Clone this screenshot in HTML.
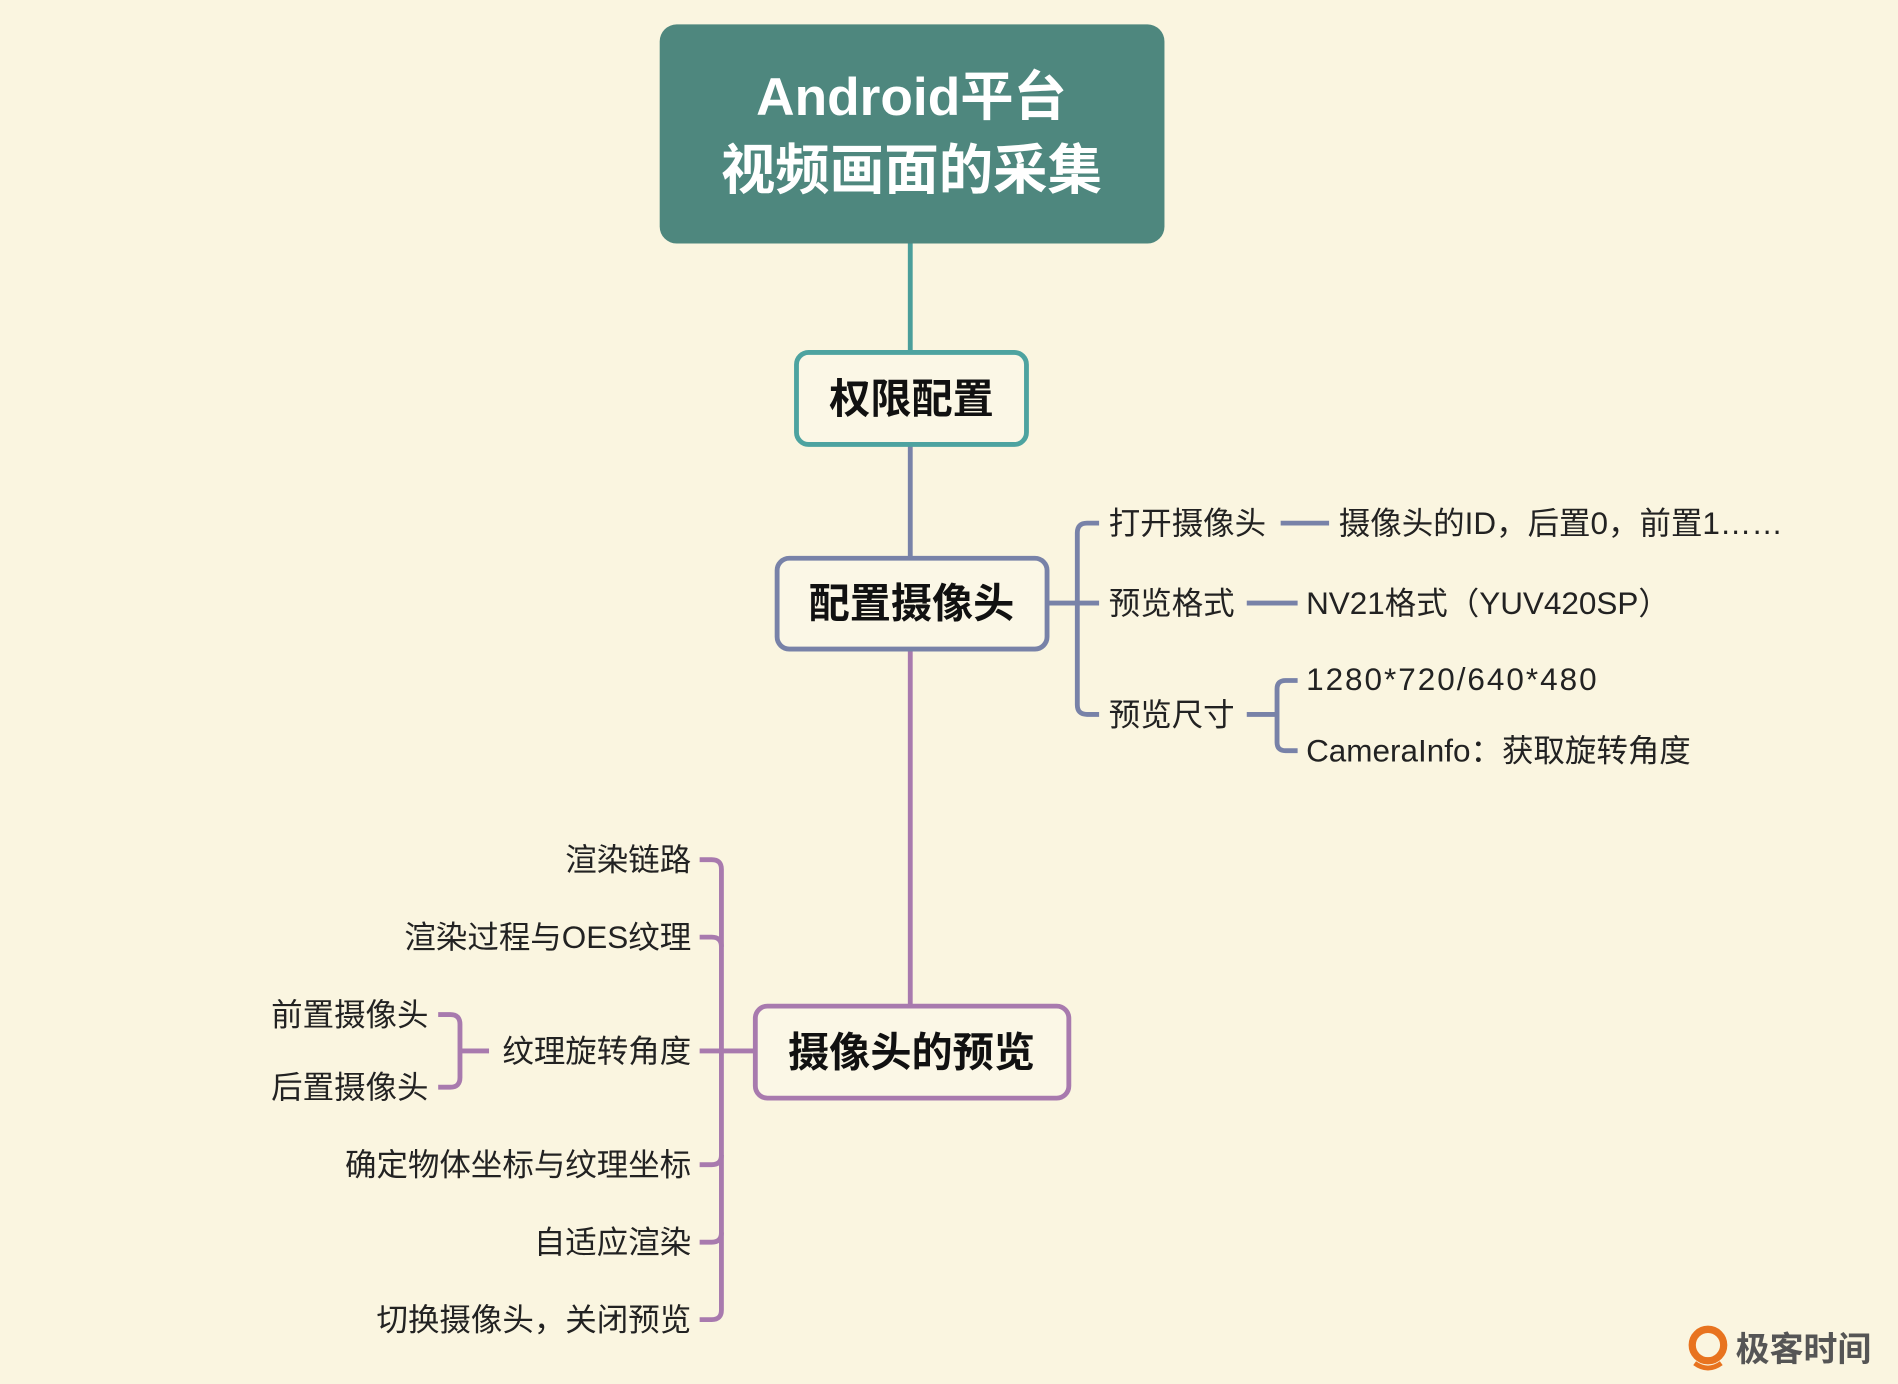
<!DOCTYPE html>
<html><head><meta charset="utf-8"><style>
html,body{margin:0;padding:0;background:#faf5e0;}
svg{display:block;}
text{font-family:"Liberation Sans","Noto Sans CJK SC",sans-serif;}
</style></head><body>
<svg width="1898" height="1384" viewBox="0 0 1568 1143" xmlns="http://www.w3.org/2000/svg">
<rect width="1568" height="1143" fill="#faf5e0"/>
<line x1="752" y1="200" x2="752" y2="292" stroke="#4a9e9a" stroke-width="4"/>
<line x1="752" y1="368" x2="752" y2="462" stroke="#7882a8" stroke-width="4"/>
<line x1="752" y1="537" x2="752" y2="832" stroke="#a87aae" stroke-width="4"/>
<rect x="545" y="20" width="417" height="181" rx="14" fill="#4e877e"/>
<text x="753" y="95" font-size="44" fill="#fff" text-anchor="middle" font-weight="bold">Android平台</text>
<text x="753" y="156" font-size="45" fill="#fff" text-anchor="middle" font-weight="bold">视频画面的采集</text>
<rect x="658" y="291" width="190" height="76" rx="10" fill="#fbf7e6" stroke="#4da3a0" stroke-width="4"/>
<text x="753" y="341" font-size="34" font-weight="bold" text-anchor="middle" fill="#111">权限配置</text>
<rect x="642" y="461" width="223" height="75" rx="10" fill="#fbf7e6" stroke="#7882a8" stroke-width="4"/>
<text x="753" y="510" font-size="34" font-weight="bold" text-anchor="middle" fill="#111">配置摄像头</text>
<rect x="624" y="831" width="259" height="76" rx="10" fill="#fbf7e6" stroke="#a87aae" stroke-width="4"/>
<text x="753" y="881" font-size="34" font-weight="bold" text-anchor="middle" fill="#111">摄像头的预览</text>
<g fill="none" stroke="#7882a8" stroke-width="4">
<line x1="866" y1="498" x2="908" y2="498"/>
<path d="M908 432 H898 Q890 432 890 440 V582 Q890 590 898 590 H908"/>
<line x1="1058" y1="432" x2="1098" y2="432"/>
<line x1="1030" y1="498" x2="1072" y2="498"/>
<line x1="1030" y1="590" x2="1055" y2="590"/>
<path d="M1072 562 H1062 Q1055 562 1055 569 V613 Q1055 620 1062 620 H1072"/>
</g>
<g font-size="26" fill="#222">
<text x="916" y="441">打开摄像头</text>
<text x="1106" y="441">摄像头的ID，后置0，前置1……</text>
<text x="916" y="507">预览格式</text>
<text x="1079" y="507">NV21格式（YUV420SP）</text>
<text x="916" y="599">预览尺寸</text>
<text x="1079" y="570" textLength="240">1280*720/640*480</text>
<text x="1079" y="629">CameraInfo：获取旋转角度</text>
</g>
<g fill="none" stroke="#a87aae" stroke-width="4">
<line x1="623" y1="868" x2="578" y2="868"/>
<path d="M578 710 H588 Q596 710 596 718 V1082 Q596 1090 588 1090 H578"/>
<path d="M578 774 H588 Q596 774 596 782"/>
<path d="M578 962 H588 Q596 962 596 954"/>
<path d="M578 1026 H588 Q596 1026 596 1018"/>
<line x1="404" y1="868" x2="380" y2="868"/>
<path d="M362 838 H372 Q380 838 380 846 V890 Q380 898 372 898 H362"/>
</g>
<g font-size="26" fill="#222" text-anchor="end">
<text x="571" y="719">渲染链路</text>
<text x="571" y="783">渲染过程与OES纹理</text>
<text x="571" y="877">纹理旋转角度</text>
<text x="354" y="847">前置摄像头</text>
<text x="354" y="907">后置摄像头</text>
<text x="571" y="971">确定物体坐标与纹理坐标</text>
<text x="571" y="1035">自适应渲染</text>
<text x="571" y="1099">切换摄像头，关闭预览</text>
</g>
<circle cx="1411" cy="1111" r="13" fill="none" stroke="#e8731f" stroke-width="6"/>
<path d="M1400 1126 Q1411 1134 1422 1126" stroke="#e8731f" stroke-width="4" fill="none"/>
<text x="1434" y="1124" font-size="28" fill="#555" font-weight="bold">极客时间</text>
</svg>
</body></html>
